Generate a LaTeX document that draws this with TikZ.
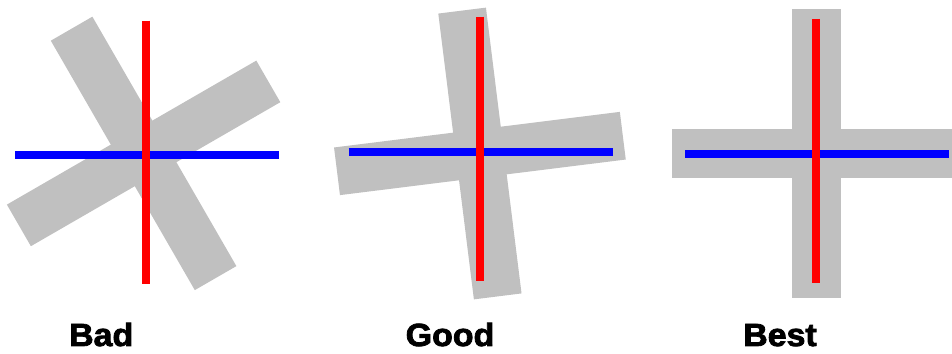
\documentclass[tikz,border=0pt]{standalone}
\usepackage{fontspec}
\setmainfont{Liberation Sans}
\newfontfamily\labelfont[FakeBold=2.5,FakeStretch=1.06]{Liberation Sans Bold}
\definecolor{armgray}{HTML}{C0C0C0}
\definecolor{redline}{HTML}{FF0000}
\definecolor{blueline}{HTML}{0000FF}
\tikzset{
  arm/.style={fill=armgray, draw=none},
  vline/.style={draw=redline, line width=8pt},
  hline/.style={draw=blueline, line width=8pt},
  caption/.style={anchor=base, inner sep=0pt, font=\labelfont\fontsize{32}{38}\selectfont}
}
\begin{document}
\begin{tikzpicture}[x=1pt,y=1pt]
\useasboundingbox (0,0) rectangle (952,353);
\fill[white] (0,0) rectangle (952,353);
\begin{scope}
\clip (0,0) rectangle (952,353);
% panel 1
\begin{scope}[shift={(143.6,199.6)}, rotate=30]
  \fill[arm] (-144,-24) rectangle (144,24);
  \fill[arm] (-24,-144) rectangle (24,144);
\end{scope}
% panel 2
\begin{scope}[shift={(479.9,199.5)}, rotate=7.1]
  \fill[arm] (-144,-24) rectangle (144,24);
  \fill[arm] (-24,-144) rectangle (24,144);
\end{scope}
% panel 3
\begin{scope}[shift={(816.5,199.7)}]
  \fill[arm] (-144.5,-24.3) rectangle (144.5,24.3);
  \fill[arm] (-24.5,-144.3) rectangle (24.5,144.3);
\end{scope}
\end{scope}
% panel 1 lines
\coordinate (b1l) at (15,197.7);
\coordinate (b1r) at (278.7,197.7);
\coordinate (r1t) at (145.7,332.3);
\coordinate (r1b) at (145.7,68.7);
\draw[hline] (b1l) -- (b1r);
\draw[vline] (r1t) -- (r1b);
% panel 2 lines
\coordinate (b2l) at (348.7,201.3);
\coordinate (b2r) at (612.7,201.3);
\coordinate (r2t) at (479.9,336.3);
\coordinate (r2b) at (479.9,72.3);
\draw[hline] (b2l) -- (b2r);
\draw[vline] (r2t) -- (r2b);
% panel 3 lines
\coordinate (b3l) at (685,199.2);
\coordinate (b3r) at (949,199.2);
\coordinate (r3t) at (816,334);
\coordinate (r3b) at (816,70);
\draw[hline] (b3l) -- (b3r);
\draw[vline] (r3t) -- (r3b);
% captions
\node[caption] (bad) at (101.2,7) {Bad};
\node[caption] (good) at (450,7) {Good};
\node[caption] (best) at (780,7) {Best};
\end{tikzpicture}
\end{document}
